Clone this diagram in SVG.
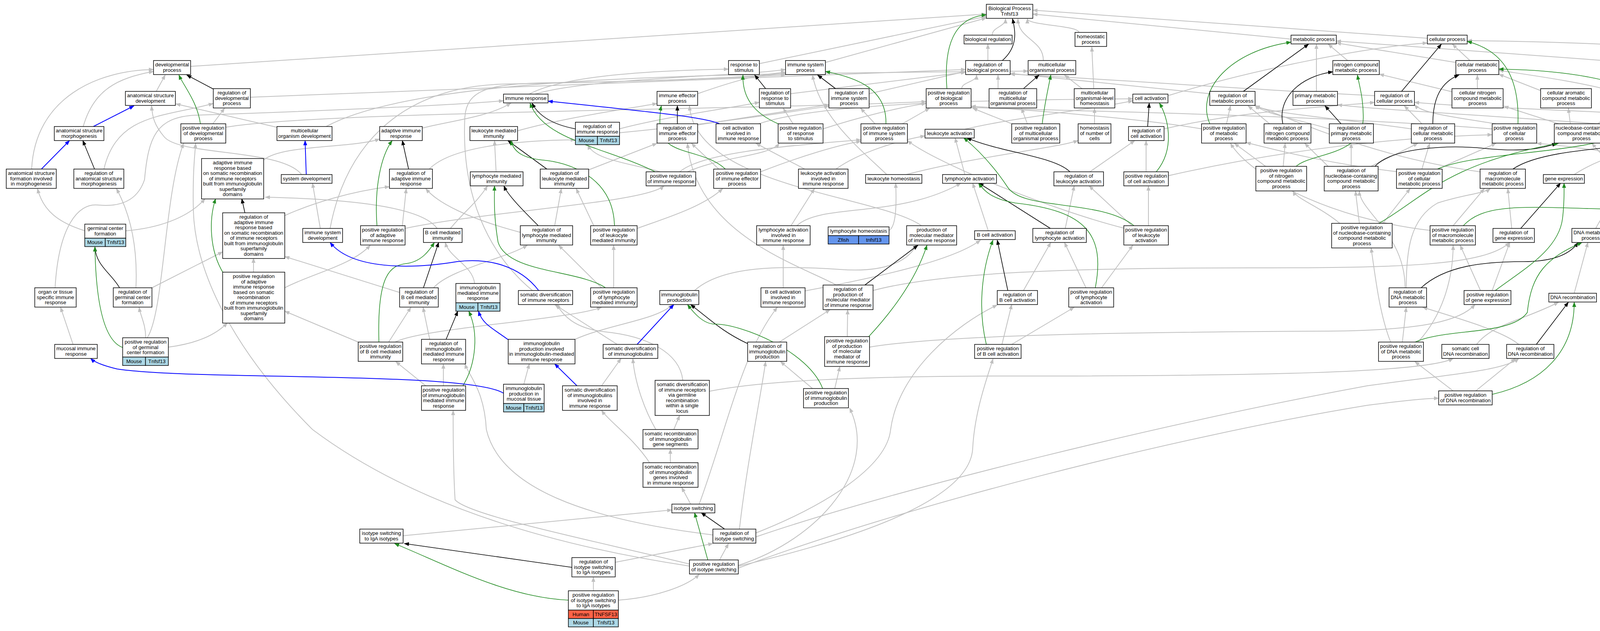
<svg xmlns="http://www.w3.org/2000/svg" width="4669" height="1616" viewBox="0 0 4669 1616">
<defs>
<style>
.n rect{fill:#fff;stroke:#000;stroke-width:1.5}
.n rect.mo{fill:#add8e6}
.n rect.hu{fill:#ff6347}
.n rect.zf{fill:#6495ed}
text{font-family:"Liberation Sans",Arial,sans-serif;font-size:13.3px;text-anchor:middle;fill:#000}
#connectors path{fill:none}
.e{stroke:#c0c0c0;stroke-width:2;marker-end:url(#ag)}
.r{stroke:#000;stroke-width:1.6;marker-end:url(#ak)}
.p{stroke:#228b22;stroke-width:1.6;marker-end:url(#ap)}
.b{stroke:#0000ff;stroke-width:2;marker-end:url(#ab)}
</style>
<marker id="ag" viewBox="0 0 13 10" refX="12" refY="5" markerWidth="13" markerHeight="10" markerUnits="userSpaceOnUse" orient="auto"><path d="M0,0L13,5L0,10z" fill="#c0c0c0"/></marker>
<marker id="ak" viewBox="0 0 13 10" refX="12" refY="5" markerWidth="13" markerHeight="10" markerUnits="userSpaceOnUse" orient="auto"><path d="M0,0L13,5L0,10z" fill="#000"/></marker>
<marker id="ap" viewBox="0 0 13 10" refX="12" refY="5" markerWidth="13" markerHeight="10" markerUnits="userSpaceOnUse" orient="auto"><path d="M0,0L13,5L0,10z" fill="#228b22"/></marker>
<marker id="ab" viewBox="0 0 13 10" refX="12" refY="5" markerWidth="13" markerHeight="10" markerUnits="userSpaceOnUse" orient="auto"><path d="M0,0L13,5L0,10z" fill="#0000ff"/></marker>
</defs>
<rect width="4669" height="1616" fill="#fff"/>
<g id="connectors">
<path class="e" d="M2540,90 C2540,69 2574,69 2574,48"/>
<path class="e" d="M2762,83 C2762,65 2630,65 2630,48"/>
<path class="e" d="M3305,100 L2644,36"/>
<path class="e" d="M3654,98 L2644,26"/>
<path class="e" d="M488,170 L2525,36"/>
<path class="e" d="M1944,163 L2525,42"/>
<path class="e" d="M2113,160 L2525,46"/>
<path class="e" d="M2529,155 L2529,113"/>
<path class="e" d="M2671,155 C2671,101 2606,101 2606,48"/>
<path class="e" d="M2462,227 C2462,210 2500,210 2500,192"/>
<path class="e" d="M400,234 L423,192"/>
<path class="e" d="M641,249 L2472,178"/>
<path class="e" d="M213,324 C240,230 300,200 393,183"/>
<path class="e" d="M81,433 C90,250 250,180 393,178"/>
<path class="e" d="M266,433 C300,290 420,300 546,265"/>
<path class="e" d="M545,317 L575,277"/>
<path class="e" d="M578,326 C800,285 2000,280 2371,260"/>
<path class="e" d="M709,326 L450,266"/>
<path class="e" d="M835,324 C1100,180 2000,190 2632,182"/>
<path class="e" d="M772,447 C720,380 460,400 420,350 C395,320 390,300 388,271"/>
<path class="e" d="M1081,328 C1150,310 1250,300 1308,264"/>
<path class="e" d="M1099,433 C1150,380 1300,360 1473,358"/>
<path class="e" d="M675,410 C720,370 900,380 972,356"/>
<path class="e" d="M1030,578 L1040,483"/>
<path class="e" d="M1037,585 C1250,540 1650,520 1700,476"/>
<path class="e" d="M729,552 C800,520 900,490 997,478"/>
<path class="e" d="M649,697 L649,661"/>
<path class="e" d="M729,737 C800,700 900,680 948,628"/>
<path class="e" d="M348,737 C352,650 340,560 298,483"/>
<path class="e" d="M389,737 L570,645"/>
<path class="e" d="M217,591 C150,570 110,540 96,483"/>
<path class="e" d="M322,591 C400,585 480,560 525,509"/>
<path class="e" d="M373,865 C373,830 360,810 356,787"/>
<path class="e" d="M431,889 C500,880 550,860 582,827"/>
<path class="e" d="M377,865 C420,800 420,500 470,367"/>
<path class="e" d="M187,882 L155,787"/>
<path class="e" d="M141,737 C150,580 200,520 250,525 C300,530 350,520 370,460 C380,350 400,300 500,295 C800,285 1150,270 1289,258"/>
<path class="e" d="M1215,726 C1210,680 1150,660 1140,621"/>
<path class="e" d="M1110,737 C1150,690 1300,660 1350,628"/>
<path class="e" d="M1023,749 L729,657"/>
<path class="e" d="M995,876 L1052,787"/>
<path class="e" d="M917,876 L729,797"/>
<path class="e" d="M1012,876 C1080,840 1450,820 1540,787"/>
<path class="e" d="M1100,869 L1083,787"/>
<path class="e" d="M1135,988 L1135,932"/>
<path class="e" d="M1090,988 L1013,926"/>
<path class="e" d="M1472,869 C1560,830 1680,820 1722,780"/>
<path class="e" d="M1341,984 L1355,932"/>
<path class="e" d="M1540,988 L1590,918"/>
<path class="e" d="M1580,882 L1420,780"/>
<path class="e" d="M1748,974 C1740,900 1650,860 1550,850 C1460,840 1440,800 1424,780"/>
<path class="e" d="M1778,744 C1850,680 2000,680 2150,690 C2280,700 2330,660 2345,628"/>
<path class="e" d="M1995,876 L2125,793"/>
<path class="e" d="M2080,995 L1998,926"/>
<path class="e" d="M2137,995 L2150,939"/>
<path class="e" d="M2169,862 L2170,793"/>
<path class="e" d="M2141,730 C2050,680 1780,600 1760,367"/>
<path class="e" d="M2235,744 C2400,700 2700,686 3200,686 C3600,686 3800,680 3865,621"/>
<path class="e" d="M2226,889 C2400,860 2800,851 3400,848 C3650,846 3740,820 3776,780"/>
<path class="e" d="M1270,440 L1266,360"/>
<path class="e" d="M1507,435 L1682,367"/>
<path class="e" d="M1420,578 L1437,483"/>
<path class="e" d="M1332,595 C1200,560 1120,520 1090,483"/>
<path class="e" d="M1690,440 C1620,420 1520,410 1505,371"/>
<path class="e" d="M1740,440 C1800,390 2000,375 2204,358"/>
<path class="e" d="M1760,440 C1850,400 1970,400 1995,367"/>
<path class="e" d="M1840,433 L1770,367"/>
<path class="e" d="M1947,440 C2050,400 2150,370 2204,362"/>
<path class="e" d="M1786,320 L2122,268"/>
<path class="e" d="M1940,318 C2100,260 2600,255 2900,253"/>
<path class="e" d="M2024,240 L2472,185"/>
<path class="e" d="M2225,240 L2472,183"/>
<path class="e" d="M1786,240 C1900,200 1950,190 2011,185"/>
<path class="e" d="M1370,241 C1500,200 1900,195 2011,178"/>
<path class="e" d="M1355,241 C1450,190 1700,180 1865,177"/>
<path class="e" d="M2030,317 L2005,277"/>
<path class="e" d="M2107,330 C2200,300 2300,275 2371,265"/>
<path class="e" d="M2240,317 L2203,277"/>
<path class="e" d="M2310,317 L2380,277"/>
<path class="e" d="M2555,227 L2555,192"/>
<path class="e" d="M2630,317 L2615,277"/>
<path class="e" d="M2590,317 L2490,277"/>
<path class="e" d="M2800,227 L2795,120"/>
<path class="e" d="M2770,227 L2725,192"/>
<path class="e" d="M2802,317 L2802,277"/>
<path class="e" d="M2990,245 C3200,180 3500,120 3654,110"/>
<path class="e" d="M2980,330 C3200,280 3400,275 3519,262"/>
<path class="e" d="M2470,331 C2600,300 2800,280 2900,258"/>
<path class="e" d="M2934,440 L2934,360"/>
<path class="e" d="M2991,450 C3300,380 3600,350 3820,345"/>
<path class="e" d="M2790,440 L2905,360"/>
<path class="e" d="M2900,580 L2788,476"/>
<path class="e" d="M2940,578 L2940,476"/>
<path class="e" d="M2880,585 C2700,540 2400,420 2323,360"/>
<path class="e" d="M2470,447 L2445,353"/>
<path class="e" d="M2530,591 L2490,469"/>
<path class="e" d="M2727,585 L2750,476"/>
<path class="e" d="M2620,744 L2690,621"/>
<path class="e" d="M2565,882 L2590,780"/>
<path class="e" d="M2590,882 L2750,787"/>
<path class="e" d="M2780,737 L2725,621"/>
<path class="e" d="M2820,737 L2900,628"/>
<path class="e" d="M2040,578 C2100,520 2300,560 2460,469"/>
<path class="e" d="M2025,578 L2085,483"/>
<path class="e" d="M2061,745 C2300,700 2450,660 2510,615"/>
<path class="e" d="M2005,737 L2005,628"/>
<path class="e" d="M2140,433 C2200,390 2300,360 2368,348"/>
<path class="e" d="M2060,433 L1935,367"/>
<path class="e" d="M2320,447 C2500,400 2700,380 2760,360"/>
<path class="e" d="M2270,447 C2200,380 2100,300 2080,192"/>
<path class="e" d="M2276,590 C2295,580 2295,520 2293,469"/>
<path class="e" d="M2359,578 C2250,500 1780,480 1765,271"/>
<path class="e" d="M3285,426 L3290,367"/>
<path class="e" d="M3240,426 L3160,367"/>
<path class="e" d="M3250,317 L3195,271"/>
<path class="e" d="M3140,317 L3150,271"/>
<path class="e" d="M3076,330 C2900,300 2600,280 2486,272"/>
<path class="e" d="M3097,240 C2900,220 2700,200 2586,188"/>
<path class="e" d="M3370,234 L3370,113"/>
<path class="e" d="M3403,330 C3300,300 3230,290 3213,268"/>
<path class="e" d="M3450,155 L3400,113"/>
<path class="e" d="M3727,160 C3600,140 3480,120 3421,110"/>
<path class="e" d="M3763,155 L3718,113"/>
<path class="e" d="M4340,172 L3421,105"/>
<path class="e" d="M3519,245 C3200,230 2800,200 2586,190"/>
<path class="e" d="M3830,317 C3720,300 3640,290 3621,268"/>
<path class="e" d="M3820,330 C3300,290 2700,285 2486,275"/>
<path class="e" d="M3613,330 C3400,300 3250,290 3213,271"/>
<path class="e" d="M3640,317 L3595,271"/>
<path class="e" d="M3782,227 L3782,192"/>
<path class="e" d="M3717,235 L3531,190"/>
<path class="e" d="M3944,232 L3837,190"/>
<path class="e" d="M4130,234 C4050,210 3900,190 3837,180"/>
<path class="e" d="M4398,227 L4398,192"/>
<path class="e" d="M4589,234 C4560,140 4300,110 3756,104"/>
<path class="e" d="M4443,320 C4300,285 3800,280 3621,262"/>
<path class="e" d="M4489,422 L4489,367"/>
<path class="e" d="M4431,447 C4300,440 4200,390 3934,367"/>
<path class="e" d="M4020,317 L4015,277"/>
<path class="e" d="M4090,317 L4150,271"/>
<path class="e" d="M4118,320 L4333,270"/>
<path class="e" d="M3990,317 L3850,272"/>
<path class="e" d="M4373,324 C4460,270 4470,230 4450,192"/>
<path class="e" d="M4260,330 C3900,300 3500,280 3424,268"/>
<path class="e" d="M3400,426 L3340,367"/>
<path class="e" d="M3459,426 L3459,367"/>
<path class="e" d="M3510,426 L3630,367"/>
<path class="e" d="M3640,433 L3660,367"/>
<path class="e" d="M3580,440 C3400,420 3250,380 3190,365"/>
<path class="e" d="M3680,433 L3830,367"/>
<path class="e" d="M3789,440 C3500,400 3300,300 3213,271"/>
<path class="e" d="M4030,447 C4100,400 4200,380 4270,360"/>
<path class="e" d="M4140,440 L4075,367"/>
<path class="e" d="M4185,440 L4290,360"/>
<path class="e" d="M3720,578 L3800,483"/>
<path class="e" d="M3661,590 C3400,560 3200,450 3150,367"/>
<path class="e" d="M3870,585 L3860,483"/>
<path class="e" d="M3820,744 L3865,621"/>
<path class="e" d="M3790,744 L3738,628"/>
<path class="e" d="M3597,737 C3597,600 3480,540 3480,489"/>
<path class="e" d="M3600,737 C3600,640 3610,560 3680,520 C3740,500 3800,495 3815,483"/>
<path class="e" d="M3590,876 L3600,787"/>
<path class="e" d="M3560,876 C3530,800 3520,700 3510,635"/>
<path class="e" d="M3630,876 C3700,800 3720,700 3720,628"/>
<path class="e" d="M4085,585 C4110,540 4130,510 4141,476"/>
<path class="e" d="M4030,751 L4065,621"/>
<path class="e" d="M3780,882 C3820,830 3900,820 3990,774"/>
<path class="e" d="M3888,882 C3850,850 3750,820 3642,787"/>
<path class="e" d="M3778,1001 L3880,918"/>
<path class="e" d="M3720,1001 L3622,926"/>
<path class="e" d="M3480,572 L3470,489"/>
<path class="e" d="M3430,572 C3380,530 3320,510 3310,489"/>
<path class="e" d="M3540,572 L3610,483"/>
<path class="e" d="M1725,1100 L1740,1064"/>
<path class="e" d="M1679,1100 C1650,1050 1625,980 1620,918"/>
<path class="e" d="M1716,1185 L1716,1150"/>
<path class="e" d="M1663,1185 C1620,1120 1560,1080 1540,1051"/>
<path class="e" d="M1768,1291 L1745,1248"/>
<path class="e" d="M1790,1291 C1860,1100 1900,900 1990,787"/>
<path class="e" d="M1032,1372 L1720,1306"/>
<path class="e" d="M1893,1355 C1910,1200 1950,1000 1960,926"/>
<path class="e" d="M1825,1370 C1500,1330 1280,1250 1245,1100 C1240,1000 1200,960 1190,932"/>
<path class="e" d="M1935,1365 C2100,1300 2270,1200 2280,1100 C2300,950 2450,830 2553,781"/>
<path class="e" d="M1935,1375 C2300,1250 3000,1080 3500,988 C3700,960 3850,950 3888,918"/>
<path class="e" d="M1816,1002 C1950,975 2200,963 2600,963 C3200,963 3650,955 3720,918"/>
<path class="e" d="M1842,1434 L1865,1392"/>
<path class="e" d="M1767,1445 C1500,1380 1200,1320 1165,1280 C1160,1200 1160,1100 1160,1051"/>
<path class="e" d="M1767,1450 C1300,1380 1000,1250 800,1100 C600,900 500,700 495,540 C493,450 498,400 501,367"/>
<path class="e" d="M1890,1450 C2100,1400 2480,1300 2490,1150 C2495,1050 2530,960 2542,919"/>
<path class="e" d="M1890,1448 C2100,1380 2250,1200 2175,1045"/>
<path class="e" d="M1890,1455 C2300,1300 3000,1120 3500,1038 C3600,1025 3650,1020 3683,1020"/>
<path class="e" d="M1575,1440 L1825,1392"/>
<path class="e" d="M1519,1513 L1519,1478"/>
<path class="e" d="M1583,1537 C1680,1530 1760,1500 1790,1471"/>
<path class="e" d="M820,585 L800,469"/>
<path class="e" d="M845,585 C880,400 1000,220 1300,215 C1600,210 1900,200 2011,188"/>
<path class="e" d="M1363,744 C1250,650 1180,500 1190,300 C1195,230 1250,215 1400,212 C1700,208 1900,198 2011,192"/>
<path class="e" d="M1325,335 C1450,300 1600,280 1682,265"/>
<path class="e" d="M1586,330 C1700,300 1850,280 1944,262"/>
<path class="e" d="M1586,340 C1800,320 2000,290 2122,272"/>
<path class="e" d="M1153,585 C1190,540 1220,520 1248,476"/>
<path class="e" d="M1119,585 C1080,530 900,510 679,505"/>
<path class="e" d="M1540,737 L1430,628"/>
<path class="e" d="M1571,737 L1571,628"/>
<path class="e" d="M1520,578 L1475,483"/>
<path class="e" d="M1631,585 C1700,560 1800,530 1850,483"/>
<path class="r" d="M2566,155 C2606,120 2600,80 2592,48"/>
<path class="r" d="M546,228 L478,192"/>
<path class="r" d="M242,433 L212,360"/>
<path class="r" d="M1046,433 L1030,360"/>
<path class="r" d="M627,545 L619,509"/>
<path class="r" d="M306,737 C285,700 245,680 243,632"/>
<path class="r" d="M1084,737 L1123,621"/>
<path class="r" d="M1142,869 L1172,797"/>
<path class="r" d="M1914,880 C1850,850 1820,820 1768,780"/>
<path class="r" d="M2214,730 L2350,628"/>
<path class="r" d="M1400,433 L1300,360"/>
<path class="r" d="M1378,578 C1340,540 1300,500 1290,476"/>
<path class="r" d="M1734,317 L1734,271"/>
<path class="r" d="M1960,227 L1932,192"/>
<path class="r" d="M2139,227 L2093,192"/>
<path class="r" d="M2620,227 L2660,192"/>
<path class="r" d="M2938,324 L2942,264"/>
<path class="r" d="M2739,440 C2700,400 2560,390 2475,353"/>
<path class="r" d="M2689,585 L2506,469"/>
<path class="r" d="M2580,744 L2553,615"/>
<path class="r" d="M3284,317 C3270,250 3330,195 3412,184"/>
<path class="r" d="M3183,234 L3350,113"/>
<path class="r" d="M3433,317 L3392,271"/>
<path class="r" d="M3588,234 L3690,113"/>
<path class="r" d="M3668,317 C3668,250 3690,210 3735,192"/>
<path class="r" d="M4520,317 L4580,271"/>
<path class="r" d="M3520,426 C3560,380 3700,370 3800,380 C3900,390 3950,380 3985,367"/>
<path class="r" d="M3873,433 C3950,380 4150,380 4280,360"/>
<path class="r" d="M3893,585 L3995,469"/>
<path class="r" d="M3638,737 C3700,680 3800,670 3900,670 C3980,670 4020,650 4040,621"/>
<path class="r" d="M3933,882 L4015,774"/>
<path class="r" d="M1855,1355 L1795,1313"/>
<path class="r" d="M1464,1453 C1300,1430 1100,1400 1035,1392"/>
<path class="r" d="M1473,330 C1420,320 1380,300 1362,264"/>
<path class="p" d="M2424,227 C2416,120 2440,45 2525,38"/>
<path class="p" d="M513,317 C505,260 470,220 458,192"/>
<path class="p" d="M965,578 C958,480 975,400 1004,360"/>
<path class="p" d="M572,700 C535,640 535,560 552,509"/>
<path class="p" d="M314,890 C260,870 245,750 243,632"/>
<path class="p" d="M970,876 C965,700 1000,680 1040,675 C1080,670 1100,640 1112,621"/>
<path class="p" d="M1185,988 C1220,930 1225,850 1200,797"/>
<path class="p" d="M2106,995 C2070,900 1900,830 1830,830 C1800,830 1775,800 1760,780"/>
<path class="p" d="M2224,862 C2300,780 2350,700 2373,628"/>
<path class="p" d="M1677,440 C1560,380 1390,360 1357,264"/>
<path class="p" d="M1573,578 C1570,450 1450,415 1390,410 C1340,405 1315,390 1308,360"/>
<path class="p" d="M1550,737 C1480,690 1300,700 1275,620 C1265,560 1265,520 1266,476"/>
<path class="p" d="M1857,433 C1800,380 1700,400 1690,330 C1688,300 1690,285 1693,271"/>
<path class="p" d="M1992,317 C1930,290 1900,250 1902,192"/>
<path class="p" d="M2268,317 C2270,230 2200,200 2113,183"/>
<path class="p" d="M2668,317 C2675,260 2683,230 2690,192"/>
<path class="p" d="M2960,440 C3010,380 2990,300 2968,264"/>
<path class="p" d="M2903,578 C2820,510 2620,540 2580,480 C2540,420 2500,380 2467,353"/>
<path class="p" d="M2804,737 C2830,600 2780,540 2600,520 C2540,510 2520,490 2505,469"/>
<path class="p" d="M2525,882 C2505,800 2510,700 2542,615"/>
<path class="p" d="M3318,426 C3360,390 3490,400 3490,300 C3490,250 3480,220 3475,192"/>
<path class="p" d="M3097,317 C3060,230 3150,130 3305,108"/>
<path class="p" d="M3886,317 C3890,200 3850,130 3756,106"/>
<path class="p" d="M4547,447 C4600,430 4612,350 4610,271"/>
<path class="p" d="M3680,433 C3800,380 4150,400 4230,300 C4270,240 4100,180 3837,177"/>
<path class="p" d="M3530,572 C3640,510 3700,420 3990,367"/>
<path class="p" d="M3746,578 C3800,520 3900,530 4100,535 C4250,535 4300,450 4313,360"/>
<path class="p" d="M3828,744 C3900,690 3990,640 4000,560 C4005,520 4004,490 4004,469"/>
<path class="p" d="M3623,876 C3700,840 3870,860 3910,800 C3920,700 3960,660 4050,621"/>
<path class="p" d="M3820,1010 C3950,980 4030,900 4030,774"/>
<path class="p" d="M1812,1434 L1778,1313"/>
<path class="p" d="M1455,1537 C1300,1530 1150,1450 1010,1392"/>
<path class="b" d="M239,324 L343,271"/>
<path class="b" d="M106,433 L178,360"/>
<path class="b" d="M784,447 L781,360"/>
<path class="b" d="M1842,317 C1800,300 1700,290 1403,259"/>
<path class="b" d="M1289,1007 C1200,950 500,975 300,945 C270,938 245,930 232,918"/>
<path class="b" d="M1301,870 C1260,840 1235,830 1225,797"/>
<path class="b" d="M1477,988 L1420,932"/>
<path class="b" d="M1631,882 L1725,780"/>
<path class="b" d="M1379,744 C1330,680 1250,660 1170,670 C1050,690 900,690 845,621"/>
</g>
<g id="nodes">
<g id="n1" class="n"><rect x="2525" y="11" width="119" height="36"/><text y="26"><tspan x="2584.5">Biological Process</tspan><tspan x="2584.5" dy="13.5">Tnfsf13</tspan></text></g>
<g id="n2" class="n"><rect x="2468" y="90" width="123" height="22.5"/><text y="105"><tspan x="2529.5">biological regulation</tspan></text></g>
<g id="n3" class="n"><rect x="2752" y="83" width="81" height="36"/><text y="98"><tspan x="2792.5">homeostatic</tspan><tspan x="2792.5" dy="13.5">process</tspan></text></g>
<g id="n4" class="n"><rect x="3305" y="90" width="116" height="22.5"/><text y="105"><tspan x="3363">metabolic process</tspan></text></g>
<g id="n5" class="n"><rect x="3654" y="90" width="102" height="22.5"/><text y="105"><tspan x="3705">cellular process</tspan></text></g>
<g id="n6" class="n"><rect x="393" y="155" width="95" height="36"/><text y="170"><tspan x="440.5">developmental</tspan><tspan x="440.5" dy="13.5">process</tspan></text></g>
<g id="n7" class="n"><rect x="1865" y="155" width="79" height="36"/><text y="170"><tspan x="1904.5">response to</tspan><tspan x="1904.5" dy="13.5">stimulus</tspan></text></g>
<g id="n8" class="n"><rect x="2011" y="155" width="102" height="36"/><text y="170"><tspan x="2062">immune system</tspan><tspan x="2062" dy="13.5">process</tspan></text></g>
<g id="n9" class="n"><rect x="2472" y="155" width="114" height="36"/><text y="170"><tspan x="2529">regulation of</tspan><tspan x="2529" dy="13.5">biological process</tspan></text></g>
<g id="n10" class="n"><rect x="2632" y="155" width="122" height="36"/><text y="170"><tspan x="2693">multicellular</tspan><tspan x="2693" dy="13.5">organismal process</tspan></text></g>
<g id="n11" class="n"><rect x="3412" y="155" width="119" height="36"/><text y="170"><tspan x="3471.5">nitrogen compound</tspan><tspan x="3471.5" dy="13.5">metabolic process</tspan></text></g>
<g id="n12" class="n"><rect x="3727" y="155" width="110" height="36"/><text y="170"><tspan x="3782">cellular metabolic</tspan><tspan x="3782" dy="13.5">process</tspan></text></g>
<g id="n13" class="n"><rect x="4340" y="155" width="116" height="36"/><text y="170"><tspan x="4398">organic substance</tspan><tspan x="4398" dy="13.5">metabolic process</tspan></text></g>
<g id="n14" class="n"><rect x="321" y="234" width="128" height="36"/><text y="249"><tspan x="385">anatomical structure</tspan><tspan x="385" dy="13.5">development</tspan></text></g>
<g id="n15" class="n"><rect x="546" y="227" width="95" height="49.5"/><text y="242"><tspan x="593.5">regulation of</tspan><tspan x="593.5" dy="13.5">developmental</tspan><tspan x="593.5" dy="13.5">process</tspan></text></g>
<g id="n16" class="n"><rect x="1289" y="241" width="114" height="22.5"/><text y="256"><tspan x="1346">immune response</tspan></text></g>
<g id="n17" class="n"><rect x="1682" y="234" width="104" height="36"/><text y="249"><tspan x="1734">immune effector</tspan><tspan x="1734" dy="13.5">process</tspan></text></g>
<g id="n18" class="n"><rect x="1944" y="227" width="80" height="49.5"/><text y="242"><tspan x="1984">regulation of</tspan><tspan x="1984" dy="13.5">response to</tspan><tspan x="1984" dy="13.5">stimulus</tspan></text></g>
<g id="n19" class="n"><rect x="2122" y="227" width="103" height="49.5"/><text y="242"><tspan x="2173.5">regulation of</tspan><tspan x="2173.5" dy="13.5">immune system</tspan><tspan x="2173.5" dy="13.5">process</tspan></text></g>
<g id="n20" class="n"><rect x="2371" y="227" width="115" height="49.5"/><text y="242"><tspan x="2428.5">positive regulation</tspan><tspan x="2428.5" dy="13.5">of biological</tspan><tspan x="2428.5" dy="13.5">process</tspan></text></g>
<g id="n21" class="n"><rect x="2532" y="227" width="122" height="49.5"/><text y="242"><tspan x="2593">regulation of</tspan><tspan x="2593" dy="13.5">multicellular</tspan><tspan x="2593" dy="13.5">organismal process</tspan></text></g>
<g id="n22" class="n"><rect x="2750" y="227" width="104" height="49.5"/><text y="242"><tspan x="2802">multicellular</tspan><tspan x="2802" dy="13.5">organismal-level</tspan><tspan x="2802" dy="13.5">homeostasis</tspan></text></g>
<g id="n23" class="n"><rect x="2900" y="241" width="90" height="22.5"/><text y="256"><tspan x="2945">cell activation</tspan></text></g>
<g id="n24" class="n"><rect x="3097" y="234" width="116" height="36"/><text y="249"><tspan x="3155">regulation of</tspan><tspan x="3155" dy="13.5">metabolic process</tspan></text></g>
<g id="n25" class="n"><rect x="3310" y="234" width="114" height="36"/><text y="249"><tspan x="3367">primary metabolic</tspan><tspan x="3367" dy="13.5">process</tspan></text></g>
<g id="n26" class="n"><rect x="3519" y="234" width="102" height="36"/><text y="249"><tspan x="3570">regulation of</tspan><tspan x="3570" dy="13.5">cellular process</tspan></text></g>
<g id="n27" class="n"><rect x="3717" y="227" width="131" height="49.5"/><text y="242"><tspan x="3782.5">cellular nitrogen</tspan><tspan x="3782.5" dy="13.5">compound metabolic</tspan><tspan x="3782.5" dy="13.5">process</tspan></text></g>
<g id="n28" class="n"><rect x="3944" y="227" width="130" height="49.5"/><text y="242"><tspan x="4009">cellular aromatic</tspan><tspan x="4009" dy="13.5">compound metabolic</tspan><tspan x="4009" dy="13.5">process</tspan></text></g>
<g id="n29" class="n"><rect x="4121" y="234" width="116" height="36"/><text y="249"><tspan x="4179">heterocycle</tspan><tspan x="4179" dy="13.5">metabolic process</tspan></text></g>
<g id="n30" class="n"><rect x="4333" y="227" width="130" height="49.5"/><text y="242"><tspan x="4398">organic cyclic</tspan><tspan x="4398" dy="13.5">compound metabolic</tspan><tspan x="4398" dy="13.5">process</tspan></text></g>
<g id="n31" class="n"><rect x="4560" y="234" width="94" height="36"/><text y="249"><tspan x="4607">cell population</tspan><tspan x="4607" dy="13.5">proliferation</tspan></text></g>
<g id="n32" class="n"><rect x="139" y="324" width="127" height="36"/><text y="339"><tspan x="202.5">anatomical structure</tspan><tspan x="202.5" dy="13.5">morphogenesis</tspan></text></g>
<g id="n33" class="n"><rect x="463" y="317" width="115" height="49.5"/><text y="332"><tspan x="520.5">positive regulation</tspan><tspan x="520.5" dy="13.5">of developmental</tspan><tspan x="520.5" dy="13.5">process</tspan></text></g>
<g id="n34" class="n"><rect x="709" y="324" width="141" height="36"/><text y="339"><tspan x="779.5">multicellular</tspan><tspan x="779.5" dy="13.5">organism development</tspan></text></g>
<g id="n35" class="n"><rect x="972" y="324" width="109" height="36"/><text y="339"><tspan x="1026.5">adaptive immune</tspan><tspan x="1026.5" dy="13.5">response</tspan></text></g>
<g id="n36" class="n"><rect x="1203" y="324" width="122" height="36"/><text y="339"><tspan x="1264">leukocyte mediated</tspan><tspan x="1264" dy="13.5">immunity</tspan></text></g>
<g id="n37" class="n"><rect x="1473" y="313" width="113" height="36"/><text y="328"><tspan x="1529.5">regulation of</tspan><tspan x="1529.5" dy="13.5">immune response</tspan></text><rect class="mo" x="1473" y="349" width="56.5" height="21.5"/><rect class="mo" x="1529.5" y="349" width="56.5" height="21.5"/><text x="1501.2" y="364">Mouse</text><text x="1557.8" y="364">Tnfsf13</text></g>
<g id="n38" class="n"><rect x="1682" y="317" width="104" height="49.5"/><text y="332"><tspan x="1734">regulation of</tspan><tspan x="1734" dy="13.5">immune effector</tspan><tspan x="1734" dy="13.5">process</tspan></text></g>
<g id="n39" class="n"><rect x="1833" y="317" width="114" height="49.5"/><text y="332"><tspan x="1890">cell activation</tspan><tspan x="1890" dy="13.5">involved in</tspan><tspan x="1890" dy="13.5">immune response</tspan></text></g>
<g id="n40" class="n"><rect x="1992" y="317" width="115" height="49.5"/><text y="332"><tspan x="2049.5">positive regulation</tspan><tspan x="2049.5" dy="13.5">of response</tspan><tspan x="2049.5" dy="13.5">to stimulus</tspan></text></g>
<g id="n41" class="n"><rect x="2204" y="317" width="119" height="49.5"/><text y="332"><tspan x="2263.5">positive regulation</tspan><tspan x="2263.5" dy="13.5">of immune system</tspan><tspan x="2263.5" dy="13.5">process</tspan></text></g>
<g id="n42" class="n"><rect x="2368" y="331" width="126" height="22.5"/><text y="346"><tspan x="2431">leukocyte activation</tspan></text></g>
<g id="n43" class="n"><rect x="2590" y="317" width="123" height="49.5"/><text y="332"><tspan x="2651.5">positive regulation</tspan><tspan x="2651.5" dy="13.5">of multicellular</tspan><tspan x="2651.5" dy="13.5">organismal process</tspan></text></g>
<g id="n44" class="n"><rect x="2760" y="317" width="84" height="49.5"/><text y="332"><tspan x="2802">homeostasis</tspan><tspan x="2802" dy="13.5">of number of</tspan><tspan x="2802" dy="13.5">cells</tspan></text></g>
<g id="n45" class="n"><rect x="2889" y="324" width="91" height="36"/><text y="339"><tspan x="2934.5">regulation of</tspan><tspan x="2934.5" dy="13.5">cell activation</tspan></text></g>
<g id="n46" class="n"><rect x="3076" y="317" width="114" height="49.5"/><text y="332"><tspan x="3133">positive regulation</tspan><tspan x="3133" dy="13.5">of metabolic</tspan><tspan x="3133" dy="13.5">process</tspan></text></g>
<g id="n47" class="n"><rect x="3236" y="317" width="120" height="49.5"/><text y="332"><tspan x="3296">regulation of</tspan><tspan x="3296" dy="13.5">nitrogen compound</tspan><tspan x="3296" dy="13.5">metabolic process</tspan></text></g>
<g id="n48" class="n"><rect x="3403" y="317" width="113" height="49.5"/><text y="332"><tspan x="3459.5">regulation of</tspan><tspan x="3459.5" dy="13.5">primary metabolic</tspan><tspan x="3459.5" dy="13.5">process</tspan></text></g>
<g id="n49" class="n"><rect x="3613" y="317" width="111" height="49.5"/><text y="332"><tspan x="3668.5">regulation of</tspan><tspan x="3668.5" dy="13.5">cellular metabolic</tspan><tspan x="3668.5" dy="13.5">process</tspan></text></g>
<g id="n50" class="n"><rect x="3820" y="317" width="114" height="49.5"/><text y="332"><tspan x="3877">positive regulation</tspan><tspan x="3877" dy="13.5">of cellular</tspan><tspan x="3877" dy="13.5">process</tspan></text></g>
<g id="n51" class="n"><rect x="3979" y="317" width="139" height="49.5"/><text y="332"><tspan x="4048.5">nucleobase-containing</tspan><tspan x="4048.5" dy="13.5">compound metabolic</tspan><tspan x="4048.5" dy="13.5">process</tspan></text></g>
<g id="n52" class="n"><rect x="4260" y="324" width="115" height="36"/><text y="339"><tspan x="4317.5">macromolecule</tspan><tspan x="4317.5" dy="13.5">metabolic process</tspan></text></g>
<g id="n53" class="n"><rect x="4443" y="317" width="93" height="49.5"/><text y="332"><tspan x="4489.5">regulation of</tspan><tspan x="4489.5" dy="13.5">cell population</tspan><tspan x="4489.5" dy="13.5">proliferation</tspan></text></g>
<g id="n54" class="n"><rect x="16" y="433" width="128" height="49.5"/><text y="448"><tspan x="80">anatomical structure</tspan><tspan x="80" dy="13.5">formation involved</tspan><tspan x="80" dy="13.5">in morphogenesis</tspan></text></g>
<g id="n55" class="n"><rect x="189" y="433" width="128" height="49.5"/><text y="448"><tspan x="253">regulation of</tspan><tspan x="253" dy="13.5">anatomical structure</tspan><tspan x="253" dy="13.5">morphogenesis</tspan></text></g>
<g id="n56" class="n"><rect x="516" y="406" width="159" height="103.5"/><text y="421"><tspan x="595.5">adaptive immune</tspan><tspan x="595.5" dy="13.5">response based</tspan><tspan x="595.5" dy="13.5">on somatic recombination</tspan><tspan x="595.5" dy="13.5">of immune receptors</tspan><tspan x="595.5" dy="13.5">built from immunoglobulin</tspan><tspan x="595.5" dy="13.5">superfamily</tspan><tspan x="595.5" dy="13.5">domains</tspan></text></g>
<g id="n57" class="n"><rect x="720" y="447" width="130" height="22.5"/><text y="462"><tspan x="785">system development</tspan></text></g>
<g id="n58" class="n"><rect x="997" y="433" width="110" height="49.5"/><text y="448"><tspan x="1052">regulation of</tspan><tspan x="1052" dy="13.5">adaptive immune</tspan><tspan x="1052" dy="13.5">response</tspan></text></g>
<g id="n59" class="n"><rect x="1204" y="440" width="135" height="36"/><text y="455"><tspan x="1271.5">lymphocyte mediated</tspan><tspan x="1271.5" dy="13.5">immunity</tspan></text></g>
<g id="n60" class="n"><rect x="1383" y="433" width="124" height="49.5"/><text y="448"><tspan x="1445">regulation of</tspan><tspan x="1445" dy="13.5">leukocyte mediated</tspan><tspan x="1445" dy="13.5">immunity</tspan></text></g>
<g id="n61" class="n"><rect x="1654" y="440" width="127" height="36"/><text y="455"><tspan x="1717.5">positive regulation</tspan><tspan x="1717.5" dy="13.5">of immune response</tspan></text></g>
<g id="n62" class="n"><rect x="1827" y="433" width="120" height="49.5"/><text y="448"><tspan x="1887">positive regulation</tspan><tspan x="1887" dy="13.5">of immune effector</tspan><tspan x="1887" dy="13.5">process</tspan></text></g>
<g id="n63" class="n"><rect x="2044" y="433" width="127" height="49.5"/><text y="448"><tspan x="2107.5">leukocyte activation</tspan><tspan x="2107.5" dy="13.5">involved in</tspan><tspan x="2107.5" dy="13.5">immune response</tspan></text></g>
<g id="n64" class="n"><rect x="2216" y="447" width="144" height="22.5"/><text y="462"><tspan x="2288">leukocyte homeostasis</tspan></text></g>
<g id="n65" class="n"><rect x="2413" y="447" width="138" height="22.5"/><text y="462"><tspan x="2482">lymphocyte activation</tspan></text></g>
<g id="n66" class="n"><rect x="2698" y="440" width="127" height="36"/><text y="455"><tspan x="2761.5">regulation of</tspan><tspan x="2761.5" dy="13.5">leukocyte activation</tspan></text></g>
<g id="n67" class="n"><rect x="2877" y="440" width="114" height="36"/><text y="455"><tspan x="2934">positive regulation</tspan><tspan x="2934" dy="13.5">of cell activation</tspan></text></g>
<g id="n68" class="n"><rect x="3215" y="426" width="130" height="63"/><text y="441"><tspan x="3280">positive regulation</tspan><tspan x="3280" dy="13.5">of nitrogen</tspan><tspan x="3280" dy="13.5">compound metabolic</tspan><tspan x="3280" dy="13.5">process</tspan></text></g>
<g id="n69" class="n"><rect x="3390" y="426" width="138" height="63"/><text y="441"><tspan x="3459">regulation of</tspan><tspan x="3459" dy="13.5">nucleobase-containing</tspan><tspan x="3459" dy="13.5">compound metabolic</tspan><tspan x="3459" dy="13.5">process</tspan></text></g>
<g id="n70" class="n"><rect x="3575" y="433" width="117" height="49.5"/><text y="448"><tspan x="3633.5">positive regulation</tspan><tspan x="3633.5" dy="13.5">of cellular</tspan><tspan x="3633.5" dy="13.5">metabolic process</tspan></text></g>
<g id="n71" class="n"><rect x="3789" y="433" width="116" height="49.5"/><text y="448"><tspan x="3847">regulation of</tspan><tspan x="3847" dy="13.5">macromolecule</tspan><tspan x="3847" dy="13.5">metabolic process</tspan></text></g>
<g id="n72" class="n"><rect x="3951" y="447" width="105" height="22.5"/><text y="462"><tspan x="4003.5">gene expression</tspan></text></g>
<g id="n73" class="n"><rect x="4101" y="440" width="116" height="36"/><text y="455"><tspan x="4159">nucleic acid</tspan><tspan x="4159" dy="13.5">metabolic process</tspan></text></g>
<g id="n74" class="n"><rect x="4431" y="422" width="116" height="49.5"/><text y="437"><tspan x="4489">positive regulation</tspan><tspan x="4489" dy="13.5">of cell population</tspan><tspan x="4489" dy="13.5">proliferation</tspan></text><rect class="mo" x="4431" y="471.5" width="58" height="21.5"/><rect class="mo" x="4489" y="471.5" width="58" height="21.5"/><text x="4460" y="486.5">Mouse</text><text x="4518" y="486.5">Tnfsf13</text></g>
<g id="n75" class="n"><rect x="217" y="574" width="105" height="36"/><text y="589"><tspan x="269.5">germinal center</tspan><tspan x="269.5" dy="13.5">formation</tspan></text><rect class="mo" x="217" y="610" width="52.5" height="21.5"/><rect class="mo" x="269.5" y="610" width="52.5" height="21.5"/><text x="243.2" y="625">Mouse</text><text x="295.8" y="625">Tnfsf13</text></g>
<g id="n76" class="n"><rect x="570" y="545" width="159" height="117"/><text y="560"><tspan x="649.5">regulation of</tspan><tspan x="649.5" dy="13.5">adaptive immune</tspan><tspan x="649.5" dy="13.5">response based</tspan><tspan x="649.5" dy="13.5">on somatic recombination</tspan><tspan x="649.5" dy="13.5">of immune receptors</tspan><tspan x="649.5" dy="13.5">built from immunoglobulin</tspan><tspan x="649.5" dy="13.5">superfamily</tspan><tspan x="649.5" dy="13.5">domains</tspan></text></g>
<g id="n77" class="n"><rect x="775" y="585" width="102" height="36"/><text y="600"><tspan x="826">immune system</tspan><tspan x="826" dy="13.5">development</tspan></text></g>
<g id="n78" class="n"><rect x="923" y="578" width="114" height="49.5"/><text y="593"><tspan x="980">positive regulation</tspan><tspan x="980" dy="13.5">of adaptive</tspan><tspan x="980" dy="13.5">immune response</tspan></text></g>
<g id="n79" class="n"><rect x="1084" y="585" width="99" height="36"/><text y="600"><tspan x="1133.5">B cell mediated</tspan><tspan x="1133.5" dy="13.5">immunity</tspan></text></g>
<g id="n80" class="n"><rect x="1332" y="578" width="134" height="49.5"/><text y="593"><tspan x="1399">regulation of</tspan><tspan x="1399" dy="13.5">lymphocyte mediated</tspan><tspan x="1399" dy="13.5">immunity</tspan></text></g>
<g id="n81" class="n"><rect x="1512" y="578" width="119" height="49.5"/><text y="593"><tspan x="1571.5">positive regulation</tspan><tspan x="1571.5" dy="13.5">of leukocyte</tspan><tspan x="1571.5" dy="13.5">mediated immunity</tspan></text></g>
<g id="n82" class="n"><rect x="1937" y="578" width="137" height="49.5"/><text y="593"><tspan x="2005.5">lymphocyte activation</tspan><tspan x="2005.5" dy="13.5">involved in</tspan><tspan x="2005.5" dy="13.5">immune response</tspan></text></g>
<g id="n83" class="n"><rect x="2120" y="581" width="156" height="22.5"/><text y="596"><tspan x="2198">lymphocyte homeostasis</tspan></text><rect class="zf" x="2120" y="603.5" width="78" height="21.5"/><rect class="zf" x="2198" y="603.5" width="78" height="21.5"/><text x="2159" y="618.5">Zfish</text><text x="2237" y="618.5">tnfsf13</text></g>
<g id="n84" class="n"><rect x="2321" y="578" width="128" height="49.5"/><text y="593"><tspan x="2385">production of</tspan><tspan x="2385" dy="13.5">molecular mediator</tspan><tspan x="2385" dy="13.5">of immune response</tspan></text></g>
<g id="n85" class="n"><rect x="2495" y="591" width="104" height="22.5"/><text y="606"><tspan x="2547">B cell activation</tspan></text></g>
<g id="n86" class="n"><rect x="2644" y="585" width="137" height="36"/><text y="600"><tspan x="2712.5">regulation of</tspan><tspan x="2712.5" dy="13.5">lymphocyte activation</tspan></text></g>
<g id="n87" class="n"><rect x="2877" y="578" width="114" height="49.5"/><text y="593"><tspan x="2934">positive regulation</tspan><tspan x="2934" dy="13.5">of leukocyte</tspan><tspan x="2934" dy="13.5">activation</tspan></text></g>
<g id="n88" class="n"><rect x="3409" y="572" width="155" height="63"/><text y="587"><tspan x="3486.5">positive regulation</tspan><tspan x="3486.5" dy="13.5">of nucleobase-containing</tspan><tspan x="3486.5" dy="13.5">compound metabolic</tspan><tspan x="3486.5" dy="13.5">process</tspan></text></g>
<g id="n89" class="n"><rect x="3661" y="578" width="116" height="49.5"/><text y="593"><tspan x="3719">positive regulation</tspan><tspan x="3719" dy="13.5">of macromolecule</tspan><tspan x="3719" dy="13.5">metabolic process</tspan></text></g>
<g id="n90" class="n"><rect x="3822" y="585" width="106" height="36"/><text y="600"><tspan x="3875">regulation of</tspan><tspan x="3875" dy="13.5">gene expression</tspan></text></g>
<g id="n91" class="n"><rect x="4024" y="585" width="96" height="36"/><text y="600"><tspan x="4072">DNA metabolic</tspan><tspan x="4072" dy="13.5">process</tspan></text></g>
<g id="n92" class="n"><rect x="570" y="697" width="159" height="130.5"/><text y="712"><tspan x="649.5">positive regulation</tspan><tspan x="649.5" dy="13.5">of adaptive</tspan><tspan x="649.5" dy="13.5">immune response</tspan><tspan x="649.5" dy="13.5">based on somatic</tspan><tspan x="649.5" dy="13.5">recombination</tspan><tspan x="649.5" dy="13.5">of immune receptors</tspan><tspan x="649.5" dy="13.5">built from immunoglobulin</tspan><tspan x="649.5" dy="13.5">superfamily</tspan><tspan x="649.5" dy="13.5">domains</tspan></text></g>
<g id="n93" class="n"><rect x="89" y="737" width="106" height="49.5"/><text y="752"><tspan x="142">organ or tissue</tspan><tspan x="142" dy="13.5">specific immune</tspan><tspan x="142" dy="13.5">response</tspan></text></g>
<g id="n94" class="n"><rect x="290" y="737" width="99" height="49.5"/><text y="752"><tspan x="339.5">regulation of</tspan><tspan x="339.5" dy="13.5">germinal center</tspan><tspan x="339.5" dy="13.5">formation</tspan></text></g>
<g id="n95" class="n"><rect x="1023" y="737" width="99" height="49.5"/><text y="752"><tspan x="1072.5">regulation of</tspan><tspan x="1072.5" dy="13.5">B cell mediated</tspan><tspan x="1072.5" dy="13.5">immunity</tspan></text></g>
<g id="n96" class="n"><rect x="1167" y="726" width="113" height="49.5"/><text y="741"><tspan x="1223.5">immunoglobulin</tspan><tspan x="1223.5" dy="13.5">mediated immune</tspan><tspan x="1223.5" dy="13.5">response</tspan></text><rect class="mo" x="1167" y="775.5" width="56.5" height="21.5"/><rect class="mo" x="1223.5" y="775.5" width="56.5" height="21.5"/><text x="1195.2" y="790.5">Mouse</text><text x="1251.8" y="790.5">Tnfsf13</text></g>
<g id="n97" class="n"><rect x="1327" y="744" width="139" height="36"/><text y="759"><tspan x="1396.5">somatic diversification</tspan><tspan x="1396.5" dy="13.5">of immune receptors</tspan></text></g>
<g id="n98" class="n"><rect x="1512" y="737" width="119" height="49.5"/><text y="752"><tspan x="1571.5">positive regulation</tspan><tspan x="1571.5" dy="13.5">of lymphocyte</tspan><tspan x="1571.5" dy="13.5">mediated immunity</tspan></text></g>
<g id="n99" class="n"><rect x="1689" y="744" width="100" height="36"/><text y="759"><tspan x="1739">immunoglobulin</tspan><tspan x="1739" dy="13.5">production</tspan></text></g>
<g id="n100" class="n"><rect x="1948" y="737" width="113" height="49.5"/><text y="752"><tspan x="2004.5">B cell activation</tspan><tspan x="2004.5" dy="13.5">involved in</tspan><tspan x="2004.5" dy="13.5">immune response</tspan></text></g>
<g id="n101" class="n"><rect x="2107" y="730" width="128" height="63"/><text y="745"><tspan x="2171">regulation of</tspan><tspan x="2171" dy="13.5">production of</tspan><tspan x="2171" dy="13.5">molecular mediator</tspan><tspan x="2171" dy="13.5">of immune response</tspan></text></g>
<g id="n102" class="n"><rect x="2553" y="744" width="103" height="36"/><text y="759"><tspan x="2604.5">regulation of</tspan><tspan x="2604.5" dy="13.5">B cell activation</tspan></text></g>
<g id="n103" class="n"><rect x="2736" y="737" width="115" height="49.5"/><text y="752"><tspan x="2793.5">positive regulation</tspan><tspan x="2793.5" dy="13.5">of lymphocyte</tspan><tspan x="2793.5" dy="13.5">activation</tspan></text></g>
<g id="n104" class="n"><rect x="3556" y="737" width="96" height="49.5"/><text y="752"><tspan x="3604">regulation of</tspan><tspan x="3604" dy="13.5">DNA metabolic</tspan><tspan x="3604" dy="13.5">process</tspan></text></g>
<g id="n105" class="n"><rect x="3748" y="744" width="120" height="36"/><text y="759"><tspan x="3808">positive regulation</tspan><tspan x="3808" dy="13.5">of gene expression</tspan></text></g>
<g id="n106" class="n"><rect x="3965" y="751" width="122" height="22.5"/><text y="766"><tspan x="4026">DNA recombination</tspan></text></g>
<g id="n107" class="n"><rect x="140" y="882" width="109" height="36"/><text y="897"><tspan x="194.5">mucosal immune</tspan><tspan x="194.5" dy="13.5">response</tspan></text></g>
<g id="n108" class="n"><rect x="314" y="865" width="117" height="49.5"/><text y="880"><tspan x="372.5">positive regulation</tspan><tspan x="372.5" dy="13.5">of germinal</tspan><tspan x="372.5" dy="13.5">center formation</tspan></text><rect class="mo" x="314" y="914.5" width="58.5" height="21.5"/><rect class="mo" x="372.5" y="914.5" width="58.5" height="21.5"/><text x="343.2" y="929.5">Mouse</text><text x="401.8" y="929.5">Tnfsf13</text></g>
<g id="n109" class="n"><rect x="917" y="876" width="114" height="49.5"/><text y="891"><tspan x="974">positive regulation</tspan><tspan x="974" dy="13.5">of B cell mediated</tspan><tspan x="974" dy="13.5">immunity</tspan></text></g>
<g id="n110" class="n"><rect x="1079" y="869" width="113" height="63"/><text y="884"><tspan x="1135.5">regulation of</tspan><tspan x="1135.5" dy="13.5">immunoglobulin</tspan><tspan x="1135.5" dy="13.5">mediated immune</tspan><tspan x="1135.5" dy="13.5">response</tspan></text></g>
<g id="n111" class="n"><rect x="1301" y="869" width="171" height="63"/><text y="884"><tspan x="1386.5">immunoglobulin</tspan><tspan x="1386.5" dy="13.5">production involved</tspan><tspan x="1386.5" dy="13.5">in immunoglobulin-mediated</tspan><tspan x="1386.5" dy="13.5">immune response</tspan></text></g>
<g id="n112" class="n"><rect x="1544" y="882" width="140" height="36"/><text y="897"><tspan x="1614">somatic diversification</tspan><tspan x="1614" dy="13.5">of immunoglobulins</tspan></text></g>
<g id="n113" class="n"><rect x="1914" y="876" width="100" height="49.5"/><text y="891"><tspan x="1964">regulation of</tspan><tspan x="1964" dy="13.5">immunoglobulin</tspan><tspan x="1964" dy="13.5">production</tspan></text></g>
<g id="n114" class="n"><rect x="2111" y="862" width="115" height="76.5"/><text y="877"><tspan x="2168.5">positive regulation</tspan><tspan x="2168.5" dy="13.5">of production</tspan><tspan x="2168.5" dy="13.5">of molecular</tspan><tspan x="2168.5" dy="13.5">mediator of</tspan><tspan x="2168.5" dy="13.5">immune response</tspan></text></g>
<g id="n115" class="n"><rect x="2495" y="882" width="119" height="36"/><text y="897"><tspan x="2554.5">positive regulation</tspan><tspan x="2554.5" dy="13.5">of B cell activation</tspan></text></g>
<g id="n116" class="n"><rect x="3529" y="876" width="115" height="49.5"/><text y="891"><tspan x="3586.5">positive regulation</tspan><tspan x="3586.5" dy="13.5">of DNA metabolic</tspan><tspan x="3586.5" dy="13.5">process</tspan></text></g>
<g id="n117" class="n"><rect x="3691" y="882" width="121" height="36"/><text y="897"><tspan x="3751.5">somatic cell</tspan><tspan x="3751.5" dy="13.5">DNA recombination</tspan></text></g>
<g id="n118" class="n"><rect x="3857" y="882" width="121" height="36"/><text y="897"><tspan x="3917.5">regulation of</tspan><tspan x="3917.5" dy="13.5">DNA recombination</tspan></text></g>
<g id="n119" class="n"><rect x="1079" y="988" width="113" height="63"/><text y="1003"><tspan x="1135.5">positive regulation</tspan><tspan x="1135.5" dy="13.5">of immunoglobulin</tspan><tspan x="1135.5" dy="13.5">mediated immune</tspan><tspan x="1135.5" dy="13.5">response</tspan></text></g>
<g id="n120" class="n"><rect x="1289" y="984" width="104" height="49.5"/><text y="999"><tspan x="1341">immunoglobulin</tspan><tspan x="1341" dy="13.5">production in</tspan><tspan x="1341" dy="13.5">mucosal tissue</tspan></text><rect class="mo" x="1289" y="1033.5" width="52" height="21.5"/><rect class="mo" x="1341" y="1033.5" width="52" height="21.5"/><text x="1315" y="1048.5">Mouse</text><text x="1367" y="1048.5">Tnfsf13</text></g>
<g id="n121" class="n"><rect x="1440" y="988" width="140" height="63"/><text y="1003"><tspan x="1510">somatic diversification</tspan><tspan x="1510" dy="13.5">of immunoglobulins</tspan><tspan x="1510" dy="13.5">involved in</tspan><tspan x="1510" dy="13.5">immune response</tspan></text></g>
<g id="n122" class="n"><rect x="1677" y="974" width="139" height="90"/><text y="989"><tspan x="1746.5">somatic diversification</tspan><tspan x="1746.5" dy="13.5">of immune receptors</tspan><tspan x="1746.5" dy="13.5">via germline</tspan><tspan x="1746.5" dy="13.5">recombination</tspan><tspan x="1746.5" dy="13.5">within a single</tspan><tspan x="1746.5" dy="13.5">locus</tspan></text></g>
<g id="n123" class="n"><rect x="2057" y="995" width="115" height="49.5"/><text y="1010"><tspan x="2114.5">positive regulation</tspan><tspan x="2114.5" dy="13.5">of immunoglobulin</tspan><tspan x="2114.5" dy="13.5">production</tspan></text></g>
<g id="n124" class="n"><rect x="3683" y="1001" width="137" height="36"/><text y="1016"><tspan x="3751.5">positive regulation</tspan><tspan x="3751.5" dy="13.5">of DNA recombination</tspan></text></g>
<g id="n125" class="n"><rect x="1646" y="1100" width="141" height="49.5"/><text y="1115"><tspan x="1716.5">somatic recombination</tspan><tspan x="1716.5" dy="13.5">of immunoglobulin</tspan><tspan x="1716.5" dy="13.5">gene segments</tspan></text></g>
<g id="n126" class="n"><rect x="1646" y="1185" width="141" height="63"/><text y="1200"><tspan x="1716.5">somatic recombination</tspan><tspan x="1716.5" dy="13.5">of immunoglobulin</tspan><tspan x="1716.5" dy="13.5">genes involved</tspan><tspan x="1716.5" dy="13.5">in immune response</tspan></text></g>
<g id="n127" class="n"><rect x="1720" y="1291" width="110" height="22.5"/><text y="1306"><tspan x="1775">isotype switching</tspan></text></g>
<g id="n128" class="n"><rect x="921" y="1355" width="111" height="36"/><text y="1370"><tspan x="976.5">isotype switching</tspan><tspan x="976.5" dy="13.5">to IgA isotypes</tspan></text></g>
<g id="n129" class="n"><rect x="1825" y="1355" width="110" height="36"/><text y="1370"><tspan x="1880">regulation of</tspan><tspan x="1880" dy="13.5">isotype switching</tspan></text></g>
<g id="n130" class="n"><rect x="1464" y="1428" width="111" height="49.5"/><text y="1443"><tspan x="1519.5">regulation of</tspan><tspan x="1519.5" dy="13.5">isotype switching</tspan><tspan x="1519.5" dy="13.5">to IgA isotypes</tspan></text></g>
<g id="n131" class="n"><rect x="1765" y="1434" width="125" height="36"/><text y="1449"><tspan x="1827.5">positive regulation</tspan><tspan x="1827.5" dy="13.5">of isotype switching</tspan></text></g>
<g id="n132" class="n"><rect x="1455" y="1513" width="128" height="49.5"/><text y="1528"><tspan x="1519">positive regulation</tspan><tspan x="1519" dy="13.5">of isotype switching</tspan><tspan x="1519" dy="13.5">to IgA isotypes</tspan></text><rect class="hu" x="1455" y="1562.5" width="64" height="21.5"/><rect class="hu" x="1519" y="1562.5" width="64" height="21.5"/><text x="1487" y="1577.5">Human</text><text x="1551" y="1577.5">TNFSF13</text><rect class="mo" x="1455" y="1584" width="64" height="21.5"/><rect class="mo" x="1519" y="1584" width="64" height="21.5"/><text x="1487" y="1599">Mouse</text><text x="1551" y="1599">Tnfsf13</text></g>
</g>
</svg>
